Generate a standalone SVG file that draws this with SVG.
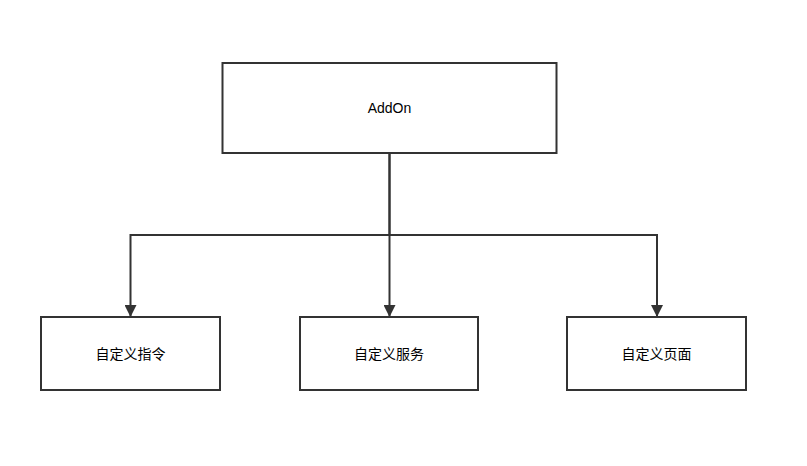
<svg xmlns="http://www.w3.org/2000/svg" width="807" height="466" viewBox="0 0 807 466">
<style>
.box{fill:#fff;stroke:#333;stroke-width:2}
.edge{fill:none;stroke:#333;stroke-width:2}
.lbl{font-family:"Liberation Sans","Noto Sans CJK SC",sans-serif;font-size:14px;fill:#000;text-anchor:middle;dominant-baseline:central}
</style>
<defs>
<marker id="arr" markerWidth="12" markerHeight="12" refX="11" refY="6" orient="auto" markerUnits="userSpaceOnUse">
<path d="M0,0 L12,6 L0,12 Z" fill="#333"/>
</marker>
</defs>
<rect width="807" height="466" fill="#fff"/>
<g id="connectors">
<path class="edge" d="M389.5,153 V235 H130.5 V316" marker-end="url(#arr)"/>
<path class="edge" d="M389.5,153 V316" marker-end="url(#arr)"/>
<path class="edge" d="M389.5,235 H657 V316" marker-end="url(#arr)"/>
</g>
<g id="addon">
<rect class="box" x="222.5" y="63" width="334" height="90"/>
<text class="lbl" x="389.5" y="108">AddOn</text>
</g>
<g id="cmd">
<rect class="box" x="41" y="317" width="179" height="73"/>
<text class="lbl" x="130.5" y="353.5">自定义指令</text>
</g>
<g id="svc">
<rect class="box" x="300" y="317" width="178" height="73"/>
<text class="lbl" x="389" y="353.5">自定义服务</text>
</g>
<g id="page">
<rect class="box" x="567" y="317" width="179" height="73"/>
<text class="lbl" x="656.5" y="353.5">自定义页面</text>
</g>
</svg>
